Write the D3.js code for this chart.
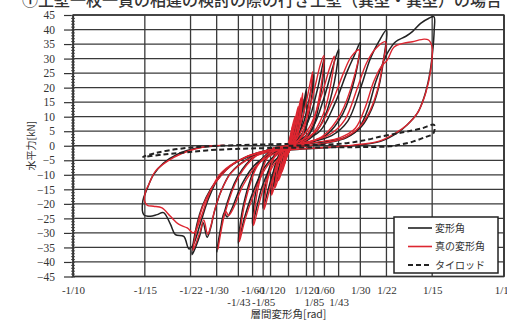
<!DOCTYPE html>
<html><head><meta charset="utf-8">
<script src="https://cdn.jsdelivr.net/npm/d3@7"></script>
<style>
body{margin:0;background:#fff}
svg{display:block}
</style>
</head><body>
<svg id="chart" width="507" height="324"></svg>
<script>
// ---- axis ticks ----
const yTickValues = [-45,-40,-35,-30,-25,-20,-15,-10,-5,0,5,10,15,20,25,30,35,40,45];
const xLabelsRow1 = ["-1/10","-1/15","-1/22","-1/30","-1/60","-1/120","1/120","1/60","1/30","1/22","1/15","1/10"];
const xLabelsRow2 = ["-1/43","-1/85","1/85","1/43"];

// ---- 変形角 (black): load cycles, [rad, kN] ----
const blackCycles = [
  [[0,0],[0.0012,3.5],[0.0022,6.5],[0.0017,3],[0.0008,0.5],[-0.0006,-2],[-0.0016,-4.5],[-0.0022,-6],[-0.0016,-2.5],[-0.0006,-0.3]],
  [[-0.0006,-0.3],[0.0008,2.5],[0.0021,6.5],[0.0033,9.5],[0.0026,5],[0.0014,1],[-0.0002,-1.8],[-0.0019,-5.5],[-0.0033,-8.5],[-0.0025,-4],[-0.0012,-0.8]],
  [[-0.0012,-0.8],[0.0008,2],[0.0032,7.5],[0.005,13],[0.0041,7],[0.0024,1.5],[0.0003,-1.8],[-0.0026,-6.5],[-0.005,-11.5],[-0.004,-6],[-0.002,-1]],
  [[-0.002,-1],[0.0012,2],[0.0042,8.5],[0.0067,16],[0.0056,9],[0.0034,2],[0.0004,-1.8],[-0.0032,-6.5],[-0.0067,-14],[-0.0055,-7],[-0.0028,-1.2]],
  [[-0.0028,-1.2],[0.002,2],[0.0056,9.5],[0.0083,19.5],[0.007,11],[0.0044,2.5],[0.0006,-1.5],[-0.0042,-7],[-0.0083,-16.5],[-0.0069,-8.5],[-0.0036,-1.5]],
  [[-0.0036,-1.5],[0.0025,1.5],[0.0068,7.5],[0.0097,16.5],[0.0118,24.5],[0.0102,14],[0.0072,4],[0.0028,0],[-0.0025,-2.8],[-0.0072,-9.5],[-0.0118,-21.5],[-0.0101,-11],[-0.0062,-2.8],[-0.0025,-0.8]],
  [[-0.0025,-0.8],[0.0035,1.5],[0.0092,8.5],[0.0133,19],[0.0167,30.5],[0.015,18],[0.0112,6],[0.0058,0.8],[0,-1.6],[-0.0068,-5.5],[-0.0122,-14],[-0.0167,-27],[-0.0147,-14],[-0.0102,-4],[-0.0045,-0.8]],
  [[-0.0045,-0.8],[0.004,1.2],[0.011,6],[0.0165,16.5],[0.0203,26.5],[0.0233,33.3],[0.0213,22],[0.0168,10],[0.0108,3],[0.004,0.2],[-0.004,-2],[-0.0112,-7.5],[-0.017,-17],[-0.0205,-25],[-0.0233,-33.5],[-0.0208,-20],[-0.015,-7],[-0.0078,-1.5]],
  [[-0.0078,-1.5],[0.005,1.2],[0.0145,5],[0.0215,14.5],[0.0272,25.5],[0.0305,31],[0.0333,35.5],[0.031,24],[0.0252,11],[0.0172,3.5],[0.008,0.6],[-0.005,-2],[-0.0148,-6],[-0.0215,-13],[-0.0262,-21.5],[-0.0285,-24.5],[-0.0298,-23],[-0.0318,-30],[-0.0333,-36.5],[-0.0302,-24],[-0.0235,-10.5],[-0.0155,-3.5],[-0.006,-0.6]],
  [[-0.006,-0.6],[0.008,1],[0.02,3.5],[0.0275,8.5],[0.0335,20],[0.038,30],[0.042,36],[0.0455,39.8],[0.0442,30],[0.0418,20],[0.0385,12.5],[0.0338,6.5],[0.027,2.8],[0.018,1],[0.005,-0.5],[-0.01,-2],[-0.02,-5],[-0.027,-9.5],[-0.0315,-16],[-0.0345,-23],[-0.0362,-28.5],[-0.0378,-31.5],[-0.0396,-26.5],[-0.0412,-31],[-0.0448,-37.5],[-0.0425,-27],[-0.04,-20.8],[-0.0362,-15],[-0.0316,-10.5],[-0.027,-7],[-0.0207,-4.2],[-0.012,-2],[-0.004,-0.8]],
  [[-0.004,-0.8],[0.005,0.3],[0.015,1.2],[0.025,2.5],[0.032,5.5],[0.0365,12],[0.0405,22],[0.0438,28.5],[0.0458,31.8],[0.0497,35.8],[0.0543,37.6],[0.0575,39.3],[0.0613,42.1],[0.0652,43.9],[0.0675,44.4],[0.0676,39.8],[0.0668,31.8],[0.0653,23.8],[0.063,16.9],[0.0598,11.2],[0.0551,7.2],[0.0505,4.4],[0.0427,1.5],[0.03,0],[0.015,-0.8],[0,-1.5],[-0.015,-3],[-0.025,-6],[-0.032,-10.5],[-0.037,-18],[-0.041,-27],[-0.0442,-34],[-0.0462,-35.5],[-0.0486,-31.2],[-0.0525,-30.6],[-0.0548,-27],[-0.058,-23],[-0.061,-23.7],[-0.0641,-24.3],[-0.0672,-23.7],[-0.0676,-19],[-0.0657,-15],[-0.0627,-10],[-0.058,-6],[-0.0517,-3],[-0.0424,-0.8],[-0.032,0]]
];

// ---- 真の変形角 (red) ----
const redCycles = [
  [[0,0],[0.0011,4],[0.002,7],[0.0015,3.2],[0.0007,0.5],[-0.0005,-2.2],[-0.0015,-5],[-0.002,-6.5],[-0.0014,-2.8],[-0.0005,-0.3]],
  [[-0.0005,-0.3],[0.0007,2.8],[0.0019,7],[0.003,10],[0.0023,5.2],[0.0012,1],[-0.0002,-2],[-0.0017,-6],[-0.003,-9],[-0.0022,-4.2],[-0.001,-0.8]],
  [[-0.001,-0.8],[0.0007,2.2],[0.0028,8],[0.0045,13.5],[0.0037,7.2],[0.0021,1.5],[0.0002,-2],[-0.0023,-7],[-0.0046,-12],[-0.0036,-6.2],[-0.0018,-1]],
  [[-0.0018,-1],[0.001,2.2],[0.0037,9],[0.0058,16.5],[0.0049,9.2],[0.003,2],[0.0003,-2],[-0.0029,-7],[-0.0062,-14.5],[-0.005,-7.2],[-0.0025,-1.2]],
  [[-0.0025,-1.2],[0.0017,2.2],[0.0048,10],[0.0066,18.2],[0.0058,11],[0.0038,2.5],[0.0005,-1.6],[-0.0038,-7.5],[-0.0078,-17],[-0.0064,-8.8],[-0.0033,-1.5]],
  [[-0.0033,-1.5],[0.002,1.6],[0.0058,8],[0.0088,17],[0.0112,25.5],[0.0095,14.5],[0.0064,4],[0.0024,0],[-0.0023,-3],[-0.0068,-10],[-0.0113,-22],[-0.0096,-11.5],[-0.0058,-2.8],[-0.0023,-0.8]],
  [[-0.0023,-0.8],[0.003,1.6],[0.0082,9],[0.0122,20],[0.0148,28],[0.0164,31],[0.0148,19],[0.0104,6],[0.0052,0.8],[0,-1.7],[-0.0064,-6],[-0.0116,-14.5],[-0.0162,-27.5],[-0.0141,-14.5],[-0.0097,-4],[-0.0042,-0.8]],
  [[-0.0042,-0.8],[0.0035,1.3],[0.0098,6.5],[0.0152,17],[0.0192,27],[0.0212,30.8],[0.0205,25],[0.0162,11],[0.01,3],[0.0035,0.2],[-0.0038,-2.2],[-0.0108,-8],[-0.0165,-17.5],[-0.0202,-25.5],[-0.0228,-33],[-0.0203,-20],[-0.0145,-7],[-0.0074,-1.5]],
  [[-0.0074,-1.5],[0.0045,1.3],[0.0135,5.5],[0.0202,15],[0.0255,25],[0.029,30.5],[0.0327,33],[0.0302,23],[0.0242,11],[0.0162,3.5],[0.0072,0.6],[-0.005,-2.2],[-0.0145,-6.5],[-0.021,-13.5],[-0.0256,-21.5],[-0.0278,-24],[-0.0292,-22.5],[-0.0312,-29],[-0.0327,-35.5],[-0.0296,-23.5],[-0.023,-10.5],[-0.015,-3.5],[-0.0058,-0.6]],
  [[-0.0058,-0.6],[0.0075,1.1],[0.019,3.8],[0.0262,9],[0.032,20],[0.0362,28.5],[0.0405,33.5],[0.045,35.8],[0.0437,28],[0.0412,19],[0.0378,12],[0.033,6.5],[0.0262,2.8],[0.0172,1],[0.0045,-0.5],[-0.01,-2.2],[-0.02,-5.2],[-0.0268,-9.5],[-0.0312,-15.5],[-0.0342,-22],[-0.036,-27.5],[-0.0375,-30.5],[-0.0393,-25.5],[-0.041,-29.5],[-0.0443,-36],[-0.042,-26.5],[-0.0396,-20.5],[-0.0358,-14.8],[-0.0312,-10.2],[-0.0265,-6.8],[-0.0202,-4],[-0.0118,-1.9],[-0.004,-0.8]],
  [[-0.004,-0.8],[0.005,0.4],[0.015,1.4],[0.024,2.8],[0.031,6],[0.0355,13],[0.0395,22],[0.0428,27],[0.0458,29.5],[0.049,34],[0.0535,35.3],[0.0575,35.8],[0.0629,36.7],[0.065,36.4],[0.0666,34],[0.066,26],[0.0636,18],[0.0598,11.2],[0.0551,7.2],[0.0502,4.6],[0.0425,1.7],[0.03,0.2],[0.015,-0.7],[0,-1.4],[-0.015,-2.8],[-0.025,-5.8],[-0.032,-10],[-0.037,-17],[-0.0408,-25],[-0.044,-30],[-0.047,-28.3],[-0.051,-27],[-0.0548,-24.3],[-0.0587,-21.4],[-0.0626,-20.8],[-0.0655,-20.5],[-0.0668,-19],[-0.0662,-15.5],[-0.0649,-13.4],[-0.0618,-8.8],[-0.0563,-5.4],[-0.049,-2.5],[-0.04,-0.5],[-0.03,0.2]]
];

// ---- タイロッド (dashed) ----
const tieRod = [[0,0],[0.014,0.3],[0.027,0.9],[0.036,2],[0.043,3.2],[0.05,4.2],[0.055,4.9],[0.062,6],[0.0675,7.2],[0.0672,4.2],[0.0635,3],[0.058,1.5],[0.052,0.4],[0.047,-0.2],[0.03,-0.5],[0.01,-0.6],[-0.01,-0.8],[-0.025,-1.1],[-0.038,-1.6],[-0.048,-2.3],[-0.058,-3],[-0.0675,-3.8],[-0.062,-2.6],[-0.055,-1.5],[-0.045,-0.6],[-0.032,0],[-0.015,0.4],[0,0.6]];

const legendItems = [
  {label:"変形角", color:"#222", dash:null, width:1.6},
  {label:"真の変形角", color:"#dd2630", dash:null, width:1.6},
  {label:"タイロッド", color:"#222", dash:"5,3", width:2}
];

const SERIF = '"Liberation Serif","DejaVu Serif",serif';
const CJK = '"Noto Sans CJK JP","Noto Sans CJK SC",sans-serif';

const svg = d3.select("#chart");
const x = d3.scaleLinear().domain([-0.1, 0.1]).range([73, 504]);
const y = d3.scaleLinear().domain([-45, 45]).range([276.5, 15]);

const toVal = s => { const neg = s[0] === "-"; const p = s.replace("-","").split("/"); return (neg?-1:1) * (+p[0]) / (+p[1]); };
const xTickVals = xLabelsRow1.concat(xLabelsRow2).map(toVal);

// title (runs off the top edge)
svg.append("text").attr("x", 22).attr("y", 6)
  .attr("font-family", CJK).attr("font-size", 16).attr("font-weight", 500).attr("fill", "#333")
  .text("①土壁一枚一貫の相違の検討の際の行き土壁（異型・異型）の場合");

// grid
const grid = svg.append("g").attr("stroke", "#3a3a3a").attr("stroke-width", 1.3);
grid.selectAll(".h").data(yTickValues).join("line")
  .attr("x1", x(-0.1)).attr("x2", x(0.1)).attr("y1", d => y(d)).attr("y2", d => y(d));
grid.selectAll(".v").data(xTickVals.concat([0, 0.1])).join("line")
  .attr("y1", y(45)).attr("y2", y(-45)).attr("x1", d => x(d)).attr("x2", d => x(d));

// y axis
const yAxis = svg.append("g").attr("transform", `translate(${x(-0.1)},0)`)
  .call(d3.axisLeft(y).tickValues(yTickValues).tickSize(9).tickSizeOuter(0).tickPadding(9));
yAxis.selectAll("text").attr("font-family", SERIF).attr("font-size", 11.5).attr("fill", "#333");
yAxis.selectAll("line, path").attr("stroke", "#333").attr("stroke-width", 1.2);
const yMinor = svg.append("g").attr("transform", `translate(${x(-0.1)+2},0)`)
  .call(d3.axisLeft(y).tickValues(d3.range(-45, 46, 1)).tickSize(4).tickFormat(""));
yMinor.select("path").remove();
yMinor.selectAll("line").attr("stroke", "#555");

// x axis labels, two rows
function xRow(labels, dy) {
  const g = svg.append("g").attr("transform", `translate(0,${y(-45)})`)
    .call(d3.axisBottom(x).tickValues(labels.map(toVal)).tickFormat((d, i) => labels[i]).tickSize(0).tickPadding(dy));
  g.select(".domain").remove();
  g.selectAll("text").attr("font-family", SERIF).attr("font-size", 11).attr("fill", "#333");
}
xRow(xLabelsRow1, 10);
xRow(xLabelsRow2, 22);

svg.append("text").attr("x", x(0)).attr("y", 317.5).attr("text-anchor", "middle")
  .attr("font-family", CJK).attr("font-size", 10.5).attr("fill", "#333")
  .text("層間変形角[rad]");
svg.append("text").attr("transform", `translate(35,${y(0)}) rotate(-90)`).attr("text-anchor", "middle")
  .attr("font-family", CJK).attr("font-size", 10).attr("fill", "#333")
  .text("水平力[kN]");

// curves
const line = d3.line().x(d => x(d[0])).y(d => y(d[1])).curve(d3.curveCatmullRom.alpha(0.5));
const curves = svg.append("g").attr("fill", "none").attr("stroke-linejoin", "round");
curves.selectAll(".b").data(blackCycles).join("path")
  .attr("d", line).attr("stroke", "#222").attr("stroke-width", 1.5);
curves.selectAll(".r").data(redCycles).join("path")
  .attr("d", line).attr("stroke", "#dd2630").attr("stroke-width", 1.4);
curves.append("path").datum(tieRod).attr("d", line)
  .attr("stroke", "#222").attr("stroke-width", 2).attr("stroke-dasharray", "5,3");

// frame
svg.append("rect").attr("x", x(-0.1)).attr("y", y(45)).attr("width", x(0.1) - x(-0.1)).attr("height", y(-45) - y(45))
  .attr("fill", "none").attr("stroke", "#333").attr("stroke-width", 1.3);

// legend
const lg = svg.append("g");
lg.append("rect").attr("x", 394).attr("y", 217).attr("width", 104).attr("height", 56)
  .attr("fill", "#fff").attr("stroke", "#222").attr("stroke-width", 1.5);
legendItems.forEach((it, i) => {
  const yy = 228 + i * 18.5;
  lg.append("line").attr("x1", 408).attr("x2", 432).attr("y1", yy).attr("y2", yy)
    .attr("stroke", it.color).attr("stroke-width", it.width).attr("stroke-dasharray", it.dash);
  lg.append("text").attr("x", 435).attr("y", yy + 3.5)
    .attr("font-family", CJK).attr("font-size", 10).attr("fill", "#333").text(it.label);
});
</script>
</body></html>
